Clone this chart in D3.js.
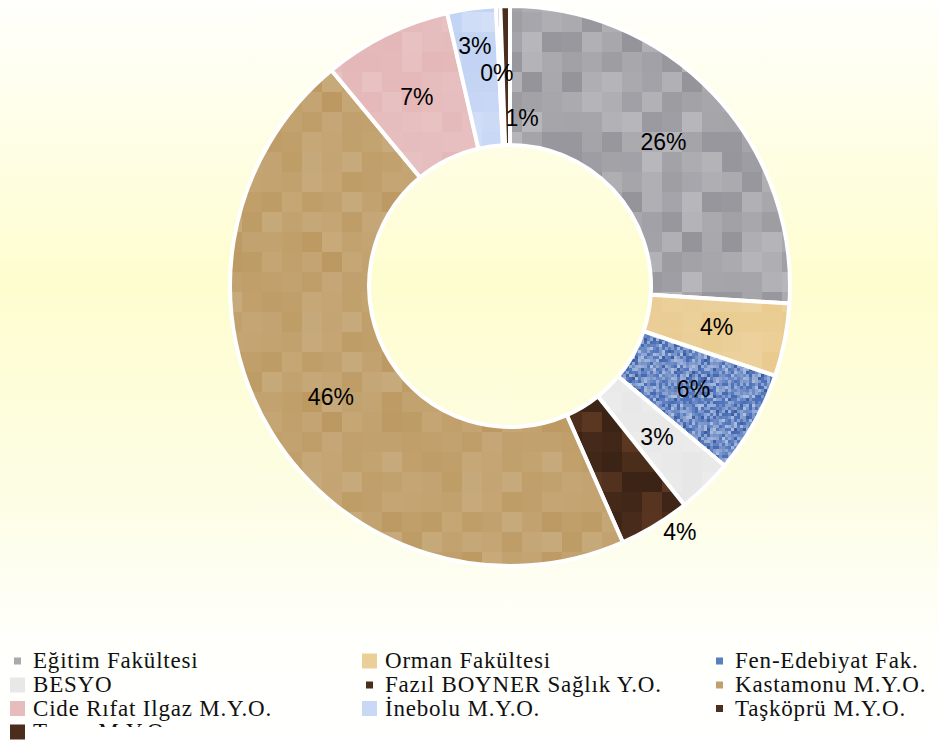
<!DOCTYPE html>
<html>
<head>
<meta charset="utf-8">
<script src="https://cdn.jsdelivr.net/npm/d3@7"></script>
<style>
  body { margin: 0; background: #fff; }
  svg { display: block; }
</style>
</head>
<body>
<svg id="chart"></svg>
<script>
// birimler ve oranlari (%)
var units = ["Eğitim Fakültesi", "Orman Fakültesi", "Fen-Edebiyat Fak.", "BESYO",
             "Fazıl BOYNER Sağlık Y.O.", "Kastamonu M.Y.O.", "Cide Rıfat Ilgaz M.Y.O.",
             "İnebolu M.Y.O.", "Taşköprü M.Y.O.", "Tosya M.Y.O."];
var shares = [26.0, 4.2, 5.9, 3.2, 4.1, 45.6, 7.4, 2.8, 0.25, 0.55];

var screen = {width: 938, height: 740};
var center = {x: 510, y: 286};
var radius = {outer: 280, inner: 141};

// fill look for each slice: base colour, cell size, shade spread
var looks = [
    {base: "#a7a7ac", cell: 20, spread: 15},
    {base: "#ebcf98", cell: 20, spread: 4},
    {base: "#7894ca", cell: 3,  spread: 30},
    {base: "#e9e9e9", cell: 20, spread: 2},
    {base: "#4b2d1c", cell: 20, spread: 9},
    {base: "#c2a26f", cell: 20, spread: 8},
    {base: "#e6bcbd", cell: 20, spread: 3},
    {base: "#cad9f5", cell: 20, spread: 4},
    {base: "#4c2e1c", cell: 20, spread: 0},
    {base: "#4b2d1d", cell: 20, spread: 0}
];
var swatchColors = ["#a9a9ae", "#ebcf98", "#5a7fc0", "#e8e8e8", "#4a2e1e",
                    "#c0a16e", "#e6bcbd", "#c9d8f5", "#4d2f1d", "#4b2d1d"];
var bigSwatch = [false, true, false, true, false, false, true, true, false, true];

// labels that excel moved off the centroid: radius and angle shift (deg)
var labelMove = {
    "Fazıl BOYNER Sağlık Y.O.": {r: 299, da: -3.5},
    "İnebolu M.Y.O.": {r: 243, da: -0.4},
    "Taşköprü M.Y.O.": {r: 213, da: -1.1},
    "Tosya M.Y.O.": {r: 168, da: 5.1}
};

var data = units.map(function(u, i){
    return {name: u, value: shares[i], look: looks[i], i: i};
});

var svg = d3.select("#chart")
    .attr("width", screen.width)
    .attr("height", screen.height);

var defs = svg.append("defs");

var bg = defs.append("linearGradient")
    .attr("id", "bg")
    .attr("x1", 0).attr("y1", 0).attr("x2", 0).attr("y2", 1);
[[0, "#fffffc"], [0.38, "#fefdcf"], [0.66, "#fdfde4"], [0.86, "#fffffb"], [1, "#ffffff"]]
    .forEach(function(s){
        bg.append("stop").attr("offset", s[0]).attr("stop-color", s[1]);
    });

svg.append("rect")
    .attr("width", screen.width)
    .attr("height", screen.height)
    .attr("fill", "url(#bg)");

// fixed hash, only used for texture shading
var hash = function(a, b, c){
    var s = Math.sin(a * 127.1 + b * 311.7 + c * 74.7) * 43758.5453;
    return s - Math.floor(s);
};

var makeTexture = function(look, id, seed){
    var n = look.cell < 5 ? 24 : 8;
    var size = look.cell * n;
    var p = defs.append("pattern")
        .attr("id", id)
        .attr("patternUnits", "userSpaceOnUse")
        .attr("x", center.x + 2).attr("y", center.y)
        .attr("width", size).attr("height", size);
    for (var r = 0; r < n; r++){
        for (var c = 0; c < n; c++){
            var col = d3.hsl(look.base);
            var k = hash(r, c, seed) - 0.5;
            if (look.cell < 5 && (r + c) % 3 == 0) k -= 0.2;
            col.l = Math.max(0, Math.min(1, col.l + k * look.spread / 100));
            p.append("rect")
                .attr("x", c * look.cell).attr("y", r * look.cell)
                .attr("width", look.cell).attr("height", look.cell)
                .attr("fill", col.formatHex());
        }
    }
};

data.forEach(function(d){ makeTexture(d.look, "tex" + d.i, d.i + 1); });

var pie = d3.pie()
    .sort(null)
    .value(function(d){ return d.value; });

var arc = d3.arc()
    .innerRadius(radius.inner)
    .outerRadius(radius.outer);

var arcs = pie(data);
var total = d3.sum(shares);

var donut = svg.append("g")
    .attr("transform", "translate(" + center.x + "," + center.y + ")");

donut.selectAll("path")
    .data(arcs)
    .enter()
    .append("path")
    .attr("d", arc)
    .attr("fill", function(a){ return "url(#tex" + a.data.i + ")"; })
    .attr("stroke", "#ffffff")
    .attr("stroke-width", 4)
    .attr("stroke-linejoin", "round");

donut.selectAll("text")
    .data(arcs)
    .enter()
    .append("text")
    .attr("transform", function(a){
        var mv = labelMove[a.data.name];
        var mid = (a.startAngle + a.endAngle) / 2;
        var r = (radius.inner + radius.outer) / 2;
        if (mv){ r = mv.r; mid += mv.da * Math.PI / 180; }
        return "translate(" + (r * Math.sin(mid)) + "," + (-r * Math.cos(mid)) + ")";
    })
    .attr("text-anchor", "middle")
    .attr("dominant-baseline", "central")
    .attr("font-family", "'Liberation Sans', Arial, sans-serif")
    .attr("font-size", 23)
    .attr("fill", "#000")
    .text(function(a){ return Math.round(a.data.value / total * 100) + "%"; });

// legend, three columns
var legendCols = [0, 352, 702];
var legendRows = [668, 692, 715.5, 739];

defs.append("clipPath")
    .attr("id", "legendClip")
    .append("rect")
    .attr("x", 0).attr("y", 640)
    .attr("width", screen.width).attr("height", 87);

var legend = svg.append("g").attr("class", "legend");

var items = legend.selectAll("g")
    .data(data)
    .enter()
    .append("g")
    .attr("transform", function(d){
        return "translate(" + legendCols[d.i % 3] + "," + legendRows[Math.floor(d.i / 3)] + ")";
    });

items.append("rect")
    .attr("x", function(d){ return bigSwatch[d.i] ? 10 : 14; })
    .attr("y", function(d){ return bigSwatch[d.i] ? -14.5 : -10.5; })
    .attr("width", function(d){ return bigSwatch[d.i] ? 15 : 7; })
    .attr("height", function(d){ return bigSwatch[d.i] ? 15 : 7; })
    .attr("fill", function(d){ return swatchColors[d.i]; });

legend.append("g")
    .attr("clip-path", "url(#legendClip)")
    .selectAll("text")
    .data(data)
    .enter()
    .append("text")
    .attr("x", function(d){ return legendCols[d.i % 3] + 33; })
    .attr("y", function(d){ return legendRows[Math.floor(d.i / 3)]; })
    .attr("font-family", "'Liberation Serif', 'DejaVu Serif', serif")
    .attr("font-size", 23)
    .attr("letter-spacing", 0.8)
    .attr("fill", "#111")
    .text(function(d){ return d.name; });
</script>
</body>
</html>
